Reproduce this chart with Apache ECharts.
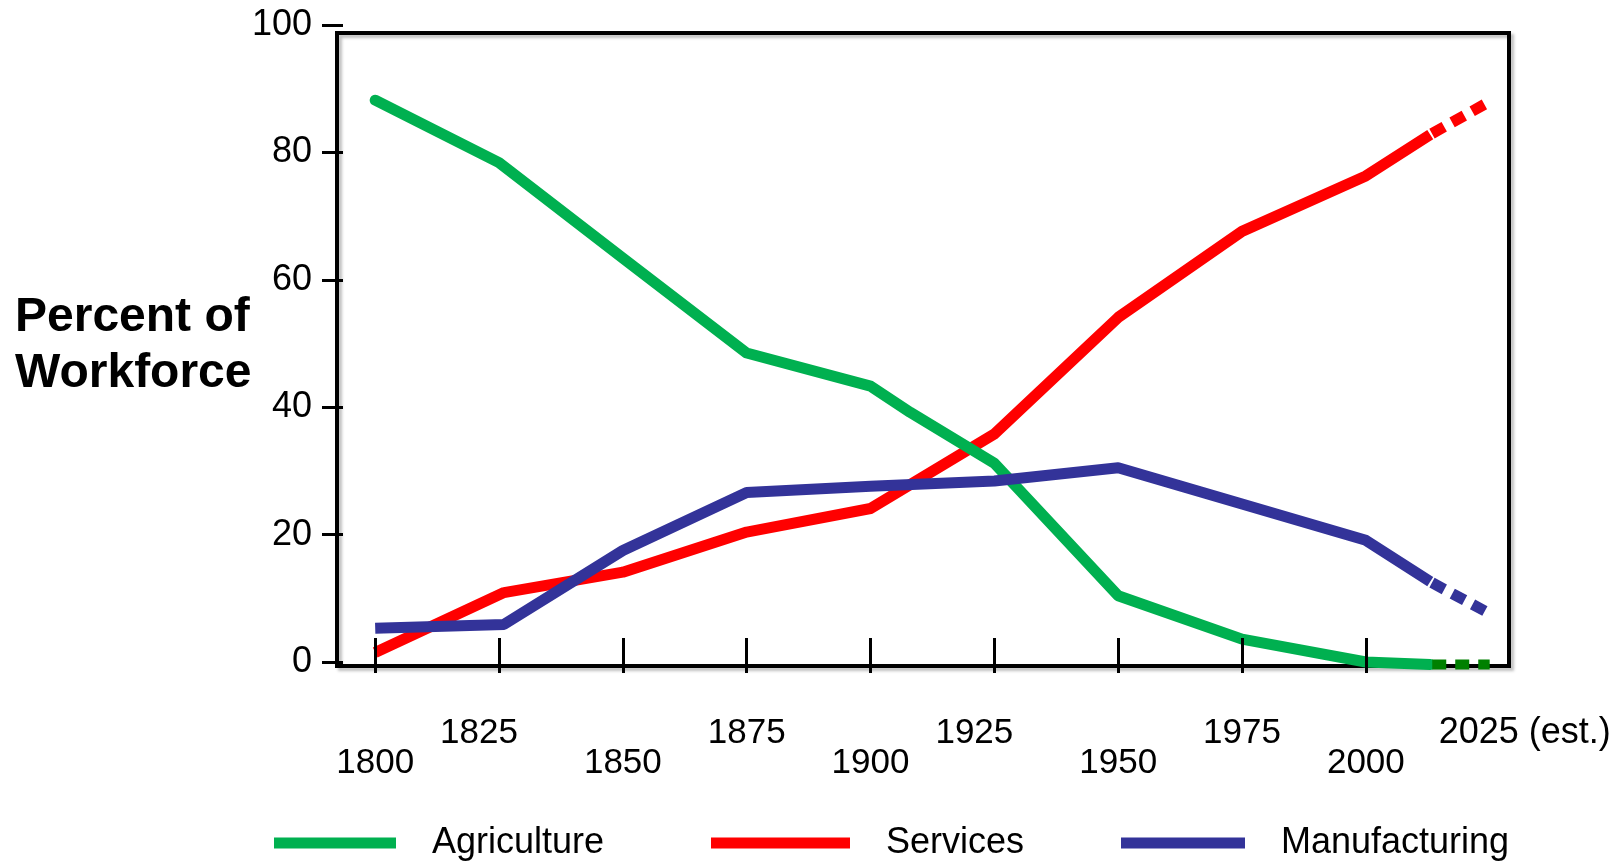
<!DOCTYPE html>
<html>
<head>
<meta charset="utf-8">
<script src="https://cdn.jsdelivr.net/npm/echarts@6/dist/echarts.min.js"></script>
<style>
  html, body { margin: 0; padding: 0; background: #fff; }
  #chart { width: 1620px; height: 862px; }
</style>
</head>
<body>
<div id="chart"></div>
<script>
// ticks on the x axis, and where labels go
var tickYears = [1800, 1825, 1850, 1875, 1900, 1925, 1950, 1975, 2000];
var labelYears = [1800, 1825, 1850, 1875, 1900, 1925, 1950, 1975, 2000];
var estLabelYears = [2025];

// Agriculture
var agriYears = [1800, 1825, 1850, 1875, 1900, 1908, 1925, 1950, 1975, 2000, 2013];
var agriValues = [88.2, 78.4, 63.4, 48.5, 43.3, 39.2, 31.2, 10.4, 3.6, 0, -0.4];
// Services
var servYears = [1800, 1826, 1850, 1875, 1900, 1925, 1950, 1975, 2000, 2013];
var servValues = [1.5, 10.9, 14.1, 20.4, 24.1, 35.8, 54.1, 67.6, 76.3, 82.8];
// Manufacturing
var manuYears = [1800, 1826, 1850, 1875, 1900, 1925, 1950, 1975, 2000, 2013];
var manuValues = [5.3, 5.9, 17.5, 26.6, 27.6, 28.4, 30.5, 24.8, 19.1, 12.6];

// estimated part (dashed)
var forecastYears = [2013, 2025];
var agriForecast = [-0.4, -0.4];
var servForecast = [82.8, 88.0];
var manuForecast = [12.6, 7.6];

function pairs(xs, ys) {
    var out = [];
    for (var i = 0; i < xs.length; i++) {
        out.push([xs[i], ys[i]]);
    }
    return out;
}

var FONT = '"Liberation Sans", Arial, sans-serif';
var GREEN = '#00B050', RED = '#FF0000', BLUE = '#333399';
var X_MIN = 1793.5, X_MAX = 2028.9;

function richStyle(pad, size) {
    return { fontSize: size || 35, fontFamily: FONT, color: '#000', lineHeight: 36, padding: pad };
}

function legendFor(name, left, width) {
    return {
        data: [name],
        left: left,
        top: 820,
        icon: 'rect',
        itemWidth: width,
        itemHeight: 11,
        textStyle: {
            fontSize: 36,
            fontFamily: FONT,
            color: '#000',
            padding: [0, 0, 0, 31]
        }
    };
}

var chart = echarts.init(document.getElementById('chart'));
var option = {
    animation: false,
    backgroundColor: '#fff',
    title: {
        text: 'Percent of\nWorkforce',
        left: 10,
        top: 285,
        textStyle: {
            fontSize: 48,
            fontWeight: 'bold',
            fontFamily: FONT,
            color: '#000',
            lineHeight: 56
        }
    },
    legend: [
        legendFor('Agriculture', 269, 122),
        legendFor('Services', 706, 139),
        legendFor('Manufacturing', 1116, 124)
    ],
    grid: {
        left: 343,
        right: 111,
        top: 25,
        bottom: 200
    },
    graphic: [
        {
            type: 'rect',
            z: 0,
            shape: { x: 337, y: 33, width: 1172, height: 633 },
            style: {
                fill: 'none',
                stroke: '#000',
                lineWidth: 4,
                shadowColor: 'rgba(0,0,0,0.25)',
                shadowBlur: 3,
                shadowOffsetX: 3,
                shadowOffsetY: 3
            }
        }
    ],
    xAxis: [
        {
            type: 'value',
            min: X_MIN,
            max: X_MAX,
            position: 'bottom',
            offset: 11,
            z: 10,
            axisLine: { show: false, onZero: false },
            splitLine: { show: false },
            axisTick: {
                show: true,
                inside: true,
                length: 35,
                customValues: tickYears,
                lineStyle: { color: '#000', width: 3 }
            },
            axisLabel: {
                customValues: labelYears,
                showMaxLabel: true,
                showMinLabel: true,
                margin: 42,
                fontSize: 35,
                fontFamily: FONT,
                color: '#000',
                formatter: function (v) {
                    v = Math.round(v);
                    if (v === 1825 || v === 1925) return '{upL|' + v + '}';
                    if ((v - 1800) % 50 === 0) return '{lo|' + v + '}';
                    return '{up|' + v + '}';
                },
                rich: {
                    lo: richStyle([61, 0, 0, 0]),
                    up: richStyle([0, 0, 0, 0]),
                    upL: richStyle([0, 40, 0, 0])
                }
            }
        },
        {
            // second axis only for the "2025 (est.)" label
            type: 'value',
            min: X_MIN,
            max: X_MAX,
            position: 'bottom',
            offset: 11,
            axisLine: { show: false, onZero: false },
            splitLine: { show: false },
            axisTick: { show: false },
            axisLabel: {
                customValues: estLabelYears,
                showMaxLabel: true,
                margin: 42,
                fontSize: 36,
                fontFamily: FONT,
                color: '#000',
                formatter: function (v) {
                    return '{est|' + Math.round(v) + ' (est.)}';
                },
                rich: {
                    est: richStyle([0, 0, 0, 70], 36)
                }
            }
        }
    ],
    yAxis: {
        type: 'value',
        min: 0,
        max: 100,
        interval: 20,
        z: 10,
        axisLine: { show: false },
        splitLine: { show: false },
        axisTick: {
            show: true,
            length: 21,
            lineStyle: { color: '#000', width: 3 }
        },
        axisLabel: {
            margin: 31,
            fontSize: 36,
            fontFamily: FONT,
            color: '#000'
        }
    },
    series: [
        {
            name: 'Services',
            type: 'line',
            data: pairs(servYears, servValues),
            symbol: 'none',
            clip: false,
            color: RED,
            lineStyle: { width: 11, color: RED, cap: 'butt', join: 'round' }
        },
        {
            name: 'Agriculture',
            type: 'line',
            data: pairs(agriYears, agriValues),
            symbol: 'none',
            clip: false,
            color: GREEN,
            lineStyle: { width: 11, color: GREEN, cap: 'round', join: 'round' }
        },
        {
            name: 'Manufacturing',
            type: 'line',
            data: pairs(manuYears, manuValues),
            symbol: 'none',
            clip: false,
            color: BLUE,
            lineStyle: { width: 11, color: BLUE, cap: 'butt', join: 'round' }
        },
        {
            name: 'Services est',
            type: 'line',
            data: pairs(forecastYears, servForecast),
            symbol: 'none',
            clip: false,
            lineStyle: { width: 11, color: RED, type: [14, 9], dashOffset: -2 }
        },
        {
            name: 'Agriculture est',
            type: 'line',
            data: pairs(forecastYears, agriForecast),
            symbol: 'none',
            clip: false,
            lineStyle: { width: 10, color: '#008000', type: [14, 9], dashOffset: -2 }
        },
        {
            name: 'Manufacturing est',
            type: 'line',
            data: pairs(forecastYears, manuForecast),
            symbol: 'none',
            clip: false,
            lineStyle: { width: 11, color: BLUE, type: [14, 9], dashOffset: -2 }
        }
    ]
};
chart.setOption(option);
</script>
</body>
</html>
